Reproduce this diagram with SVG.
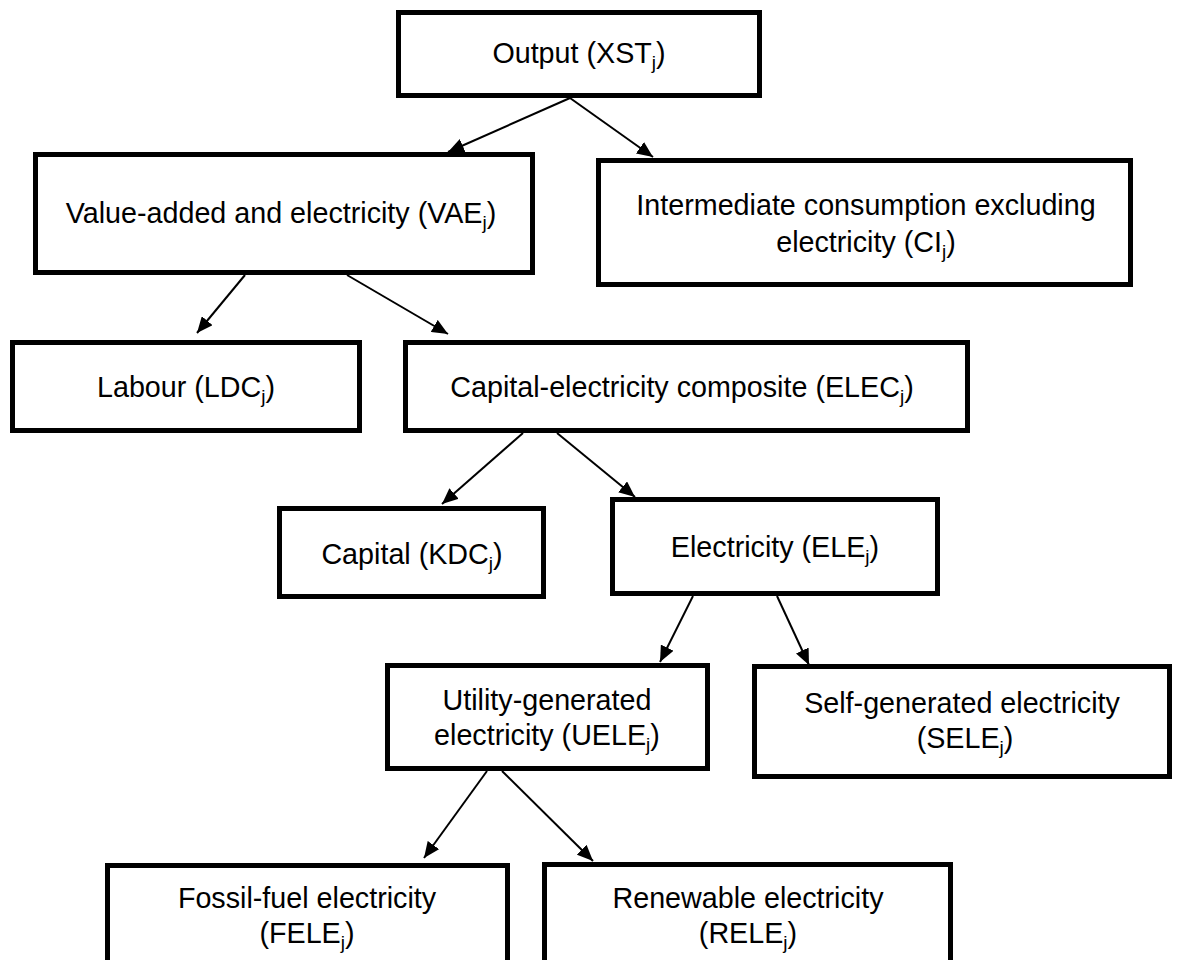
<svg xmlns="http://www.w3.org/2000/svg" width="1181" height="960" viewBox="0 0 1181 960">
<style>
.box{fill:#fff;stroke:#000;stroke-width:5}
.t{font-family:"Liberation Sans",Arial,sans-serif;font-size:28.7px;fill:#000;text-anchor:middle}
.s{font-size:19px}
.c{stroke:#000;stroke-width:2;fill:none;marker-end:url(#ah)}
</style>
<defs>
<marker id="ah" markerUnits="userSpaceOnUse" markerWidth="16" markerHeight="14" viewBox="0 0 16 14" refX="16" refY="7" orient="auto">
<path d="M0,0 L16,7 L0,14 z" fill="#000"/>
</marker>
</defs>
<rect width="1181" height="960" fill="#fff"/>
<g id="connectors">
<line class="c" x1="570" y1="98" x2="448" y2="152"/>
<line class="c" x1="570" y1="98" x2="653" y2="157"/>
<line class="c" x1="245" y1="275" x2="197" y2="333"/>
<line class="c" x1="347" y1="275" x2="448" y2="334"/>
<line class="c" x1="523" y1="433" x2="442" y2="504"/>
<line class="c" x1="557" y1="433" x2="635" y2="497"/>
<line class="c" x1="693" y1="596" x2="660" y2="662"/>
<line class="c" x1="777" y1="596" x2="809" y2="665"/>
<line class="c" x1="487" y1="771" x2="424" y2="858"/>
<line class="c" x1="502" y1="771" x2="593" y2="861"/>
</g>
<g id="n-output">
<rect class="box" x="398.5" y="12.5" width="361" height="83"/>
<text class="t" x="579" y="63">Output (XST<tspan class="s" dy="6">j</tspan><tspan dy="-6">)</tspan></text>
</g>
<g id="n-vae">
<rect class="box" x="35.5" y="154.5" width="497" height="118"/>
<text class="t" x="281" y="223">Value-added and electricity (VAE<tspan class="s" dy="6">j</tspan><tspan dy="-6">)</tspan></text>
</g>
<g id="n-ci">
<rect class="box" x="598.5" y="160.5" width="532" height="124"/>
<text class="t" x="866" y="215">Intermediate consumption excluding</text>
<text class="t" x="866" y="252">electricity (CI<tspan class="s" dy="6">j</tspan><tspan dy="-6">)</tspan></text>
</g>
<g id="n-ldc">
<rect class="box" x="12.5" y="342.5" width="347" height="88"/>
<text class="t" x="186" y="397">Labour (LDC<tspan class="s" dy="6">j</tspan><tspan dy="-6">)</tspan></text>
</g>
<g id="n-elec">
<rect class="box" x="405.5" y="342.5" width="562" height="88"/>
<text class="t" x="682" y="397">Capital-electricity composite (ELEC<tspan class="s" dy="6">j</tspan><tspan dy="-6">)</tspan></text>
</g>
<g id="n-kdc">
<rect class="box" x="279.5" y="508.5" width="264" height="88"/>
<text class="t" x="412" y="564">Capital (KDC<tspan class="s" dy="6">j</tspan><tspan dy="-6">)</tspan></text>
</g>
<g id="n-ele">
<rect class="box" x="612.5" y="499.5" width="325" height="94"/>
<text class="t" x="775" y="557">Electricity (ELE<tspan class="s" dy="6">j</tspan><tspan dy="-6">)</tspan></text>
</g>
<g id="n-uele">
<rect class="box" x="387.5" y="665.5" width="320" height="103"/>
<text class="t" x="547" y="710">Utility-generated</text>
<text class="t" x="547" y="745">electricity (UELE<tspan class="s" dy="6">j</tspan><tspan dy="-6">)</tspan></text>
</g>
<g id="n-sele">
<rect class="box" x="754.5" y="666.5" width="415" height="110"/>
<text class="t" x="962" y="713">Self-generated electricity</text>
<text class="t" x="965" y="748">(SELE<tspan class="s" dy="6">j</tspan><tspan dy="-6">)</tspan></text>
</g>
<g id="n-fele">
<rect class="box" x="107.5" y="865.5" width="400" height="120"/>
<text class="t" x="307" y="908">Fossil-fuel electricity</text>
<text class="t" x="307" y="943">(FELE<tspan class="s" dy="6">j</tspan><tspan dy="-6">)</tspan></text>
</g>
<g id="n-rele">
<rect class="box" x="544.5" y="864.5" width="406" height="120"/>
<text class="t" x="748" y="908">Renewable electricity</text>
<text class="t" x="748" y="943">(RELE<tspan class="s" dy="6">j</tspan><tspan dy="-6">)</tspan></text>
</g>
</svg>
